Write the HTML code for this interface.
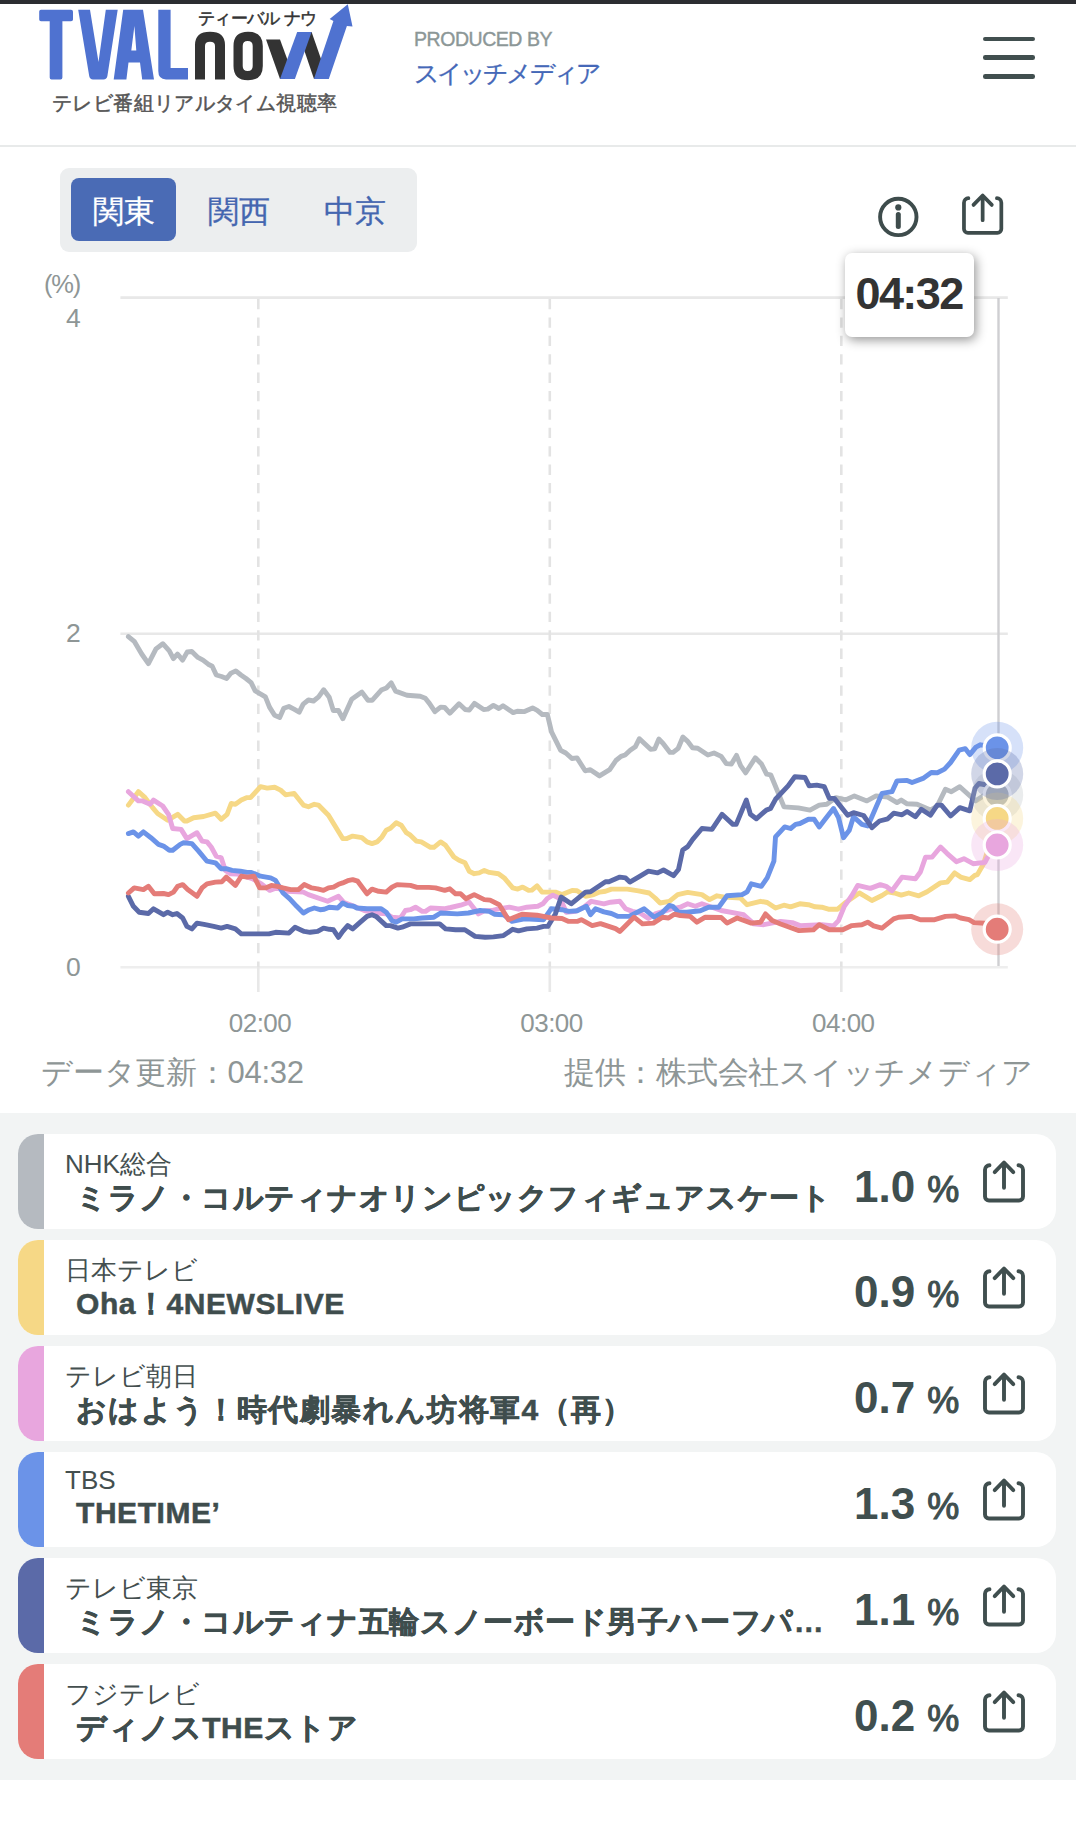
<!DOCTYPE html>
<html><head><meta charset="utf-8"><style>
html,body{margin:0;padding:0;background:#fff;width:1076px;height:1844px;overflow:hidden;position:relative;font-family:"Liberation Sans",sans-serif;}
.abs{position:absolute;}
#topbar{position:absolute;left:0;top:0;width:1076px;height:3.5px;background:#2b2d31;}
#hdrline{position:absolute;left:0;top:145px;width:1076px;height:2px;background:#e8eaea;}
.prod{position:absolute;left:414px;top:28px;font-size:19.5px;color:#8c9797;letter-spacing:-0.45px;white-space:nowrap;-webkit-text-stroke:0.4px #8c9797;}
.sw{position:absolute;left:414px;top:57px;font-size:25px;color:#4568b8;letter-spacing:-2.9px;white-space:nowrap;-webkit-text-stroke:0.3px #4568b8;}
.ham{position:absolute;left:983px;width:52px;height:4.5px;border-radius:2.25px;background:#414f4f;}
#tabs{position:absolute;left:60px;top:168px;width:357px;height:84px;border-radius:9px;background:#eceeef;}
#act{position:absolute;left:71px;top:178px;width:105px;height:63px;border-radius:8px;background:#4a6bb5;}
.tab{position:absolute;top:191px;font-size:31px;color:#4466b0;white-space:nowrap;-webkit-text-stroke:0.3px currentColor;}
.ax{position:absolute;color:#8e9696;font-size:26.5px;white-space:nowrap;}
.tl{position:absolute;top:1007.5px;color:#8e9696;font-size:26px;letter-spacing:-0.5px;white-space:nowrap;transform:translateX(-50%);}
#tip{position:absolute;left:845px;top:253px;width:129px;height:84px;border-radius:7px;background:#fff;box-shadow:2px 3px 11px rgba(0,0,0,0.42);}
#tiptext{position:absolute;left:855.5px;top:267.9px;font-size:45px;letter-spacing:-1.6px;font-weight:bold;color:#333;white-space:nowrap;}
.foot{position:absolute;top:1051.5px;font-size:31px;color:#8e9696;white-space:nowrap;letter-spacing:-0.25px;}
#gsec{position:absolute;left:0;top:1113px;width:1076px;height:667px;background:#f2f4f4;}
.card{position:absolute;left:18px;width:1038px;height:95px;background:#fff;border-radius:20px;overflow:hidden;}
.bar{position:absolute;left:0;top:0;width:26px;height:95px;}
.ch{position:absolute;left:47px;top:13px;font-size:26px;color:#444f4f;white-space:nowrap;}
.ti{position:absolute;left:58px;top:44px;font-size:30px;font-weight:bold;color:#3f4d4d;white-space:nowrap;letter-spacing:0.55px;-webkit-text-stroke:0.5px #3f4d4d;}
.val{position:absolute;left:836px;top:27.5px;font-size:44px;font-weight:bold;color:#404f4f;white-space:nowrap;}
.pc{font-size:36px;font-weight:normal;margin-left:12px;-webkit-text-stroke:1.1px #404f4f;}
.sh{position:absolute;left:965px;top:26px;overflow:visible;}
svg.chart{position:absolute;left:0;top:0;}
</style></head><body>
<div id="topbar"></div>
<svg class="abs" style="left:0;top:0" width="360" height="130" viewBox="0 0 360 130">
 <g fill="#333">
  <path d="M195 79.4 L195 45 Q195 31.8 210 31.8 Q225 31.8 225 45 L225 79.4 L215 79.4 L215 46 Q215 41.8 210 41.8 Q205 41.8 205 46 L205 79.4 Z"/>
  <path d="M248 31.8 Q262.8 31.8 262.8 46 L262.8 66 Q262.8 80.3 248 80.3 Q233.5 80.3 233.5 66 L233.5 46 Q233.5 31.8 248 31.8 Z M247.7 41 Q242.7 41 242.7 46 L242.7 66 Q242.7 71 247.7 71 Q252.7 71 252.7 66 L252.7 46 Q252.7 41 247.7 41 Z"/>
  <path d="M266 39.5 L280 39.5 L294.5 79 L280 79 Z"/>
  <path d="M298 32 L311.6 32 L328 79 L314 79 Z"/>
 </g>
 <g fill="#4f72d0">
  <path d="M39.2 11.5 Q39.2 9.8 41 9.8 L71 9.8 Q73 9.8 73 11.8 L73 19.5 Q73 21.3 71 21.3 L62.4 21.3 L62.4 77.5 Q62.4 79.4 60.5 79.4 L51.5 79.4 Q49.7 79.4 49.7 77.5 L49.7 21.3 L41 21.3 Q39.2 21.3 39.2 19.5 Z"/>
  <path d="M78.2 9.8 L90 9.8 L98.5 62 L105.8 9.8 L117.7 9.8 L107.4 76 Q106.8 79.4 103.5 79.4 L93 79.4 Q89.8 79.4 89.2 76 Z"/>
  <path d="M123.2 9.8 L143 9.8 L154 79.4 L142.2 79.4 L140 62.4 L128.5 62.4 L126.4 79.4 L113.7 79.4 Z M131.3 50.5 L136.3 50.5 L134.4 26 Z"/>
  <path d="M158.3 9.8 L170.6 9.8 L170.6 68 L188 68 L188 79.4 L166 79.4 Q158.3 79.4 158.3 71 Z"/>
  <path d="M280 79 L294.9 79 L311.6 32 L297.2 32 Z"/>
  <path d="M313.9 79 L328.8 79 L346.9 26 L352.5 26.5 L347.8 4.2 L329.7 19 L333.4 20.9 Z"/>
 </g>
 <text x="198" y="24" font-size="16.5" fill="#333" stroke="#333" stroke-width="0.5" letter-spacing="-0.65" font-family="Liberation Sans">ティーバル ナウ</text>
 <text x="52" y="110" font-size="19.5" fill="#555" stroke="#555" stroke-width="0.5" letter-spacing="0.38" font-family="Liberation Sans">テレビ番組リアルタイム視聴率</text>
</svg>
<div class="prod">PRODUCED BY</div>
<div class="sw">スイッチメディア</div>
<div class="ham" style="top:36.5px"></div><div class="ham" style="top:55.1px"></div><div class="ham" style="top:74px"></div>
<div id="hdrline"></div>
<div id="tabs"></div><div id="act"></div>
<div class="tab" style="left:93px;color:#fff">関東</div>
<div class="tab" style="left:208px">関西</div>
<div class="tab" style="left:324px">中京</div>
<svg class="abs" style="left:876px;top:194.8px" width="44" height="44" viewBox="0 0 44 44"><circle cx="22.3" cy="21.9" r="18.2" fill="none" stroke="#3e4c4c" stroke-width="3.9"/><circle cx="22.3" cy="12.4" r="3.1" fill="#3e4c4c"/><path d="M22.3 19.5 L22.3 31.5" stroke="#3e4c4c" stroke-width="5" stroke-linecap="round"/></svg>
<svg class="abs" style="left:962.4px;top:193px;overflow:visible" width="41.3" height="41.3" viewBox="0 0 42 42"><path d="M6.5 5.3 A4.5 4.5 0 0 0 2 9.8 V36.5 A4 4 0 0 0 6 40.5 H36 A4 4 0 0 0 40 36.5 V9.8 A4.5 4.5 0 0 0 35.5 5.3" fill="none" stroke="#3e4c4c" stroke-width="3.8" stroke-linecap="round" stroke-linejoin="round"/><path d="M21 27.7 V2.6 M11.7 12.1 L21 2.5 L30.3 12.1" fill="none" stroke="#3e4c4c" stroke-width="3.8" stroke-linecap="round" stroke-linejoin="round"/></svg>
<div class="ax" style="right:996px;top:270px;font-size:25.5px;letter-spacing:-1.2px;padding-right:0">(%)</div>
<div class="ax" style="right:995.3px;top:302.5px">4</div>
<div class="ax" style="right:995.3px;top:618px">2</div>
<div class="ax" style="right:995.3px;top:952px">0</div>
<div class="tl" style="left:260px">02:00</div>
<div class="tl" style="left:551.5px">03:00</div>
<div class="tl" style="left:843.3px">04:00</div>
<svg class="chart" width="1076" height="1100" viewBox="0 0 1076 1100">
 <g stroke="#e8e8e8" stroke-width="2.6">
  <path d="M120.4 297.6 H1007.8 M120.4 633.7 H1007.8"/><path d="M120.4 967.3 H1007.8" stroke="#eeeeee"/>
 </g>
 <g stroke="#e3e3e3" stroke-width="2.6" stroke-dasharray="10.3 8.1">
  <path d="M258.3 299 V967 M549.8 299 V967 M841.3 299 V967"/>
 </g>
 <path d="M258.3 967 V992 M549.8 967 V992 M841.3 967 V992" stroke="#e8e8e8" stroke-width="2.6"/>
 <path d="M998.5 298 V966" stroke="#cfcfd2" stroke-width="2.4"/>
 <g fill="none" stroke-width="4.9" stroke-linejoin="round" stroke-linecap="round"><path d="M128.4 636.6 L134.5 641.7 L141.7 654.0 L148.4 663.6 L156.0 648.9 L162.8 643.7 L169.3 650.9 L173.4 658.7 L177.5 654.0 L182.6 660.1 L187.3 651.9 L191.8 651.5 L197.9 657.4 L203.0 660.1 L208.2 664.2 L212.2 666.2 L216.3 675.0 L221.5 676.5 L226.6 678.5 L230.6 673.4 L235.8 670.9 L240.9 675.0 L246.0 678.5 L251.1 682.6 L255.2 690.8 L260.3 693.8 L265.4 696.9 L269.5 707.1 L274.6 715.3 L279.7 717.4 L283.8 708.2 L288.9 706.5 L294.0 709.2 L299.2 712.2 L303.2 704.1 L308.4 700.0 L313.5 701.0 L318.6 696.9 L323.7 689.8 L329.2 697.2 L333.3 710.5 L338.4 710.5 L342.9 718.7 L351.7 699.3 L361.9 692.1 L368.0 700.3 L372.1 700.3 L381.3 690.1 L386.4 688.0 L391.2 682.9 L395.6 691.1 L406.9 695.2 L420.2 696.2 L425.3 698.3 L429.4 703.4 L434.9 711.6 L440.6 707.1 L444.7 707.5 L449.8 713.2 L459.0 703.8 L465.2 709.5 L469.3 710.1 L474.4 703.4 L483.6 709.5 L487.7 709.1 L493.4 705.4 L498.9 708.5 L503.0 705.8 L513.2 712.6 L517.3 711.2 L524.5 711.6 L532.6 707.9 L537.2 710.4 L542.3 714.5 L547.4 714.5 L551.5 731.9 L560.7 750.3 L565.8 753.0 L571.9 758.5 L577.0 757.9 L585.2 770.8 L590.3 769.7 L599.5 775.9 L609.7 769.7 L615.9 760.5 L621.0 756.4 L625.1 755.0 L630.2 750.3 L635.3 746.8 L639.4 738.7 L650.6 749.3 L654.7 748.9 L658.8 739.1 L662.9 743.2 L670.0 752.4 L673.1 752.4 L678.2 748.3 L682.9 737.0 L687.4 741.1 L692.5 747.7 L697.7 748.3 L707.9 755.0 L714.0 753.0 L721.2 756.4 L726.3 763.6 L731.4 764.0 L736.5 755.4 L740.6 765.6 L745.7 772.8 L755.3 757.8 L761.5 764.0 L766.6 774.2 L770.7 774.8 L784.0 806.9 L798.3 807.9 L810.0 810.1 L819.2 805.1 L826.8 804.3 L836.0 797.6 L846.0 799.8 L854.4 795.9 L866.9 800.9 L876.1 795.9 L887.8 797.1 L897.0 802.6 L901.2 800.1 L907.1 803.8 L917.1 804.3 L930.5 810.1 L937.2 806.0 L945.5 789.2 L951.4 791.7 L959.8 786.7 L968.1 794.3 L975.6 800.9 L985.0 794.9 L997.0 794.9" stroke="#b5bac0"/><path d="M128.4 805.1 L138.4 791.7 L145.1 797.6 L152.6 807.6 L157.6 813.5 L167.7 820.2 L177.7 814.3 L184.4 821.0 L186.9 821.0 L193.6 817.7 L203.6 816.5 L215.4 813.2 L221.2 819.3 L227.1 814.3 L231.2 803.5 L235.4 804.3 L241.3 800.1 L247.1 797.6 L250.5 797.6 L260.5 786.7 L267.2 788.1 L274.7 787.2 L280.6 790.1 L285.6 794.8 L294.2 793.4 L303.4 805.1 L308.4 806.8 L314.3 804.3 L318.4 805.1 L328.5 815.2 L342.7 838.6 L346.9 838.6 L352.7 836.1 L361.9 837.7 L367.0 841.9 L372.0 843.6 L377.0 841.9 L382.0 836.9 L386.2 830.2 L390.4 828.2 L396.2 822.7 L401.2 825.2 L406.3 832.7 L410.4 835.2 L416.3 841.1 L421.3 841.9 L430.5 847.3 L433.9 847.3 L440.6 841.9 L445.6 845.3 L453.9 857.0 L459.0 860.3 L465.0 862.8 L469.2 871.2 L474.2 873.7 L479.2 872.9 L484.3 870.4 L489.3 872.4 L498.5 873.7 L504.3 877.9 L512.7 887.9 L517.7 889.1 L522.7 887.1 L528.6 890.4 L531.9 890.1 L537.0 885.8 L542.0 892.1 L555.4 892.1 L562.0 894.6 L572.1 890.4 L577.1 890.8 L585.5 896.3 L593.8 894.6 L599.7 892.1 L605.5 891.3 L611.4 889.1 L627.3 889.1 L638.4 890.8 L649.2 893.0 L655.1 898.0 L660.1 903.0 L669.3 901.3 L677.7 894.6 L687.7 892.4 L701.9 894.6 L709.5 899.6 L717.0 895.8 L724.5 897.1 L740.4 898.0 L747.1 904.7 L760.5 901.3 L767.2 902.5 L775.5 908.0 L783.9 905.2 L790.6 906.8 L799.8 903.8 L808.4 904.7 L815.1 906.8 L821.7 907.2 L828.4 909.2 L837.6 909.2 L846.0 902.2 L859.4 893.0 L865.2 896.3 L871.9 900.5 L882.0 895.5 L887.8 891.8 L894.5 893.0 L901.2 895.1 L908.7 893.0 L918.8 895.8 L927.1 891.8 L940.5 882.9 L947.2 882.1 L954.7 872.9 L960.6 877.1 L969.8 879.6 L974.8 875.4 L977.4 874.6 L983.5 864.0 L987.3 851.8 L997.0 818.4" stroke="#f6d886"/><path d="M128.4 791.7 L138.4 800.9 L142.6 800.9 L150.1 804.3 L153.5 800.1 L162.7 806.0 L168.5 814.3 L172.7 828.5 L181.1 829.4 L186.9 838.6 L197.0 832.7 L202.0 841.1 L207.0 841.9 L211.2 847.0 L216.2 856.1 L221.2 857.8 L225.4 870.4 L230.4 873.7 L237.1 874.0 L252.2 878.7 L261.4 883.8 L269.7 890.4 L276.4 887.9 L287.3 891.3 L303.4 892.1 L308.4 894.6 L327.6 901.3 L338.5 896.3 L343.5 902.2 L350.2 904.7 L364.4 910.5 L377.0 913.0 L386.2 913.9 L392.0 917.2 L400.4 918.0 L405.4 910.5 L410.4 909.7 L415.5 907.2 L422.2 911.4 L425.5 911.4 L430.5 908.0 L443.9 908.8 L450.6 907.5 L460.6 905.2 L469.2 902.2 L478.4 913.9 L484.3 910.8 L491.8 910.5 L498.5 908.8 L509.3 907.2 L518.5 909.2 L526.9 907.2 L537.8 906.3 L542.8 903.8 L547.0 898.8 L552.8 895.1 L560.4 898.8 L566.2 912.2 L575.4 911.4 L583.8 907.2 L591.3 901.3 L603.9 903.8 L610.6 902.2 L619.8 901.3 L625.6 908.8 L632.3 911.4 L640.0 913.0 L648.4 918.5 L655.1 913.9 L671.8 908.8 L680.2 907.2 L687.7 903.8 L695.2 906.3 L701.9 903.8 L721.2 910.5 L743.7 914.7 L753.8 923.9 L763.8 924.7 L780.6 921.4 L792.3 922.6 L800.0 925.6 L821.7 924.7 L833.5 925.9 L838.5 920.6 L844.3 906.3 L851.9 895.5 L857.7 885.4 L870.3 888.4 L880.3 884.6 L886.1 886.3 L892.0 890.8 L902.0 877.1 L915.4 878.7 L920.4 872.0 L925.5 857.3 L932.2 857.0 L940.5 847.0 L947.2 853.6 L956.4 861.7 L963.9 858.7 L973.1 863.7 L985.0 862.4 L987.3 857.9 L997.0 845.0" stroke="#e8a6de"/><path d="M128.4 833.6 L133.4 831.9 L138.4 836.1 L143.4 831.9 L150.9 837.7 L158.5 844.4 L163.5 846.1 L169.3 850.3 L172.7 850.3 L180.2 844.4 L183.6 842.8 L191.9 843.6 L198.6 851.1 L207.0 861.2 L215.4 862.8 L221.2 868.7 L226.2 868.7 L232.1 870.4 L240.4 871.2 L247.1 872.4 L251.3 872.4 L260.5 876.2 L270.6 877.9 L275.6 880.4 L283.1 893.0 L289.8 898.8 L296.7 906.3 L303.4 913.0 L309.2 909.7 L314.3 908.0 L320.1 909.7 L324.3 909.2 L329.3 907.2 L337.7 908.0 L342.7 903.0 L347.7 905.5 L353.6 906.3 L356.9 908.0 L367.0 908.8 L381.2 908.8 L386.2 912.2 L392.0 920.6 L396.2 922.2 L402.1 918.9 L413.8 918.9 L422.2 918.0 L433.9 917.2 L440.6 913.0 L457.3 913.9 L468.4 913.0 L480.1 910.5 L489.3 911.4 L494.3 914.2 L503.5 914.7 L511.9 921.4 L524.4 918.9 L543.6 919.7 L551.2 908.8 L562.0 909.7 L568.7 911.4 L577.1 910.8 L586.3 906.3 L590.5 914.7 L595.5 908.8 L603.9 911.9 L611.4 913.5 L618.1 916.4 L629.0 916.4 L644.2 908.8 L654.3 917.2 L661.8 913.0 L669.3 905.5 L672.7 906.3 L678.5 912.2 L686.9 912.2 L700.3 910.8 L708.6 907.2 L718.7 907.2 L727.0 895.8 L742.1 894.6 L747.1 891.8 L751.3 883.8 L761.3 886.3 L767.2 877.9 L773.9 861.2 L775.5 836.9 L784.7 826.9 L790.6 828.5 L795.6 824.4 L800.0 823.5 L808.4 819.3 L814.2 819.3 L819.2 826.9 L825.1 819.3 L833.5 808.5 L838.5 817.7 L843.5 837.7 L849.3 830.2 L853.5 816.8 L861.9 824.4 L867.7 826.0 L871.9 816.8 L882.0 793.4 L892.0 791.7 L897.0 780.9 L907.1 780.4 L912.1 782.5 L923.0 778.4 L931.3 772.5 L937.3 772.7 L944.5 769.1 L950.6 762.5 L959.2 750.1 L965.3 748.6 L969.8 754.6 L975.9 747.1 L980.5 744.8 L985.0 745.5 L997.0 747.8" stroke="#6b93e8"/><path d="M128.4 896.3 L133.4 906.3 L139.2 912.2 L148.4 913.5 L153.5 908.8 L163.5 914.7 L167.7 912.2 L172.7 914.7 L176.9 913.5 L182.7 918.0 L186.9 926.4 L191.9 928.9 L197.0 923.1 L205.3 924.7 L213.7 926.4 L221.2 928.1 L227.1 926.4 L235.4 928.9 L241.3 933.9 L268.9 933.9 L275.6 932.3 L289.0 933.1 L295.0 927.2 L304.2 931.4 L310.1 932.3 L317.6 931.4 L323.5 928.1 L329.3 929.3 L333.5 929.8 L338.5 937.3 L342.7 931.4 L347.7 925.6 L352.7 928.9 L360.3 922.2 L367.0 916.4 L372.0 914.7 L376.1 916.4 L386.2 925.6 L390.4 925.6 L397.9 928.1 L402.1 927.2 L410.4 923.9 L439.7 923.9 L445.6 928.9 L455.6 929.8 L464.8 929.8 L475.1 936.4 L485.1 937.3 L493.5 936.9 L503.5 935.6 L512.7 929.3 L518.5 930.9 L526.9 928.9 L537.0 928.1 L543.6 926.4 L547.8 926.4 L555.4 913.9 L561.2 897.1 L571.2 903.8 L585.5 892.1 L590.5 891.8 L605.5 881.7 L608.9 881.7 L619.8 877.1 L625.6 877.9 L629.8 882.1 L638.4 877.1 L648.4 871.2 L657.6 872.9 L663.5 870.0 L673.5 875.7 L678.5 869.5 L682.7 850.0 L687.7 846.6 L692.7 839.4 L701.9 828.5 L712.0 829.4 L722.0 814.3 L732.9 824.4 L736.2 824.4 L746.3 800.1 L750.4 814.3 L756.3 818.8 L766.3 810.1 L770.5 808.5 L775.5 799.3 L788.1 785.9 L794.8 776.7 L805.0 777.5 L809.2 785.9 L816.7 785.1 L824.3 786.7 L829.3 798.4 L834.3 798.4 L847.7 815.2 L853.5 812.7 L863.6 815.5 L871.9 827.7 L879.5 821.0 L887.8 818.8 L893.7 813.2 L902.0 814.8 L907.1 811.5 L915.4 816.8 L921.3 809.3 L930.5 815.2 L937.2 805.1 L941.4 805.1 L950.6 816.0 L959.8 807.6 L969.8 810.8 L975.1 788.0 L978.9 783.5 L986.5 785.0 L997.0 773.9" stroke="#5b6aa8"/><path d="M128.4 893.0 L134.2 887.9 L143.4 889.6 L148.4 886.3 L154.3 893.8 L163.5 893.5 L168.5 894.6 L173.5 892.1 L177.7 886.3 L182.7 884.6 L187.7 889.6 L197.0 896.3 L202.0 887.9 L207.0 883.8 L215.4 882.1 L222.0 881.7 L226.2 877.1 L235.4 885.4 L241.3 876.2 L247.1 877.1 L253.8 876.2 L259.7 887.9 L265.5 887.9 L271.4 885.4 L277.2 886.3 L283.1 887.9 L290.6 889.6 L298.4 889.6 L304.2 884.6 L311.7 887.9 L317.6 888.8 L323.5 890.4 L328.5 887.9 L333.5 887.1 L338.5 884.3 L342.7 882.9 L347.7 880.7 L352.7 879.6 L357.7 881.2 L367.0 893.8 L372.0 889.1 L378.7 891.3 L386.2 892.1 L392.0 887.1 L397.1 884.6 L410.4 885.4 L417.1 887.4 L428.8 887.4 L435.5 887.9 L444.7 890.4 L449.8 888.8 L455.6 893.8 L460.6 893.8 L465.9 898.8 L474.2 894.6 L484.3 899.6 L490.1 900.1 L499.3 904.7 L508.5 919.7 L521.9 914.2 L537.0 915.2 L551.2 918.0 L562.0 918.5 L568.7 921.4 L577.1 921.4 L581.3 919.7 L592.2 925.6 L600.5 923.6 L615.6 928.6 L619.8 931.4 L634.0 917.2 L642.5 923.9 L653.4 923.1 L662.6 917.2 L668.5 918.0 L674.3 914.2 L680.2 915.5 L690.2 916.4 L696.9 922.2 L705.3 917.2 L721.2 917.5 L727.0 923.1 L737.1 918.0 L751.3 923.1 L760.5 922.2 L765.5 913.9 L772.2 920.6 L780.6 924.0 L799.0 930.6 L813.4 929.8 L819.2 924.7 L829.3 929.8 L842.7 929.8 L851.9 925.6 L861.9 924.7 L867.7 922.2 L873.6 925.9 L882.0 928.1 L893.7 918.9 L898.7 917.2 L911.2 916.4 L920.4 919.7 L934.7 919.7 L945.5 916.4 L955.6 915.9 L960.6 918.0 L969.0 919.7 L974.0 922.6 L985.0 923.2 L997.0 929.2" stroke="#e47c78"/></g>
 <circle cx="997.2" cy="794.9" r="26" fill="#b5bac0" fill-opacity="0.28"/><circle cx="997.2" cy="794.9" r="13" fill="#b5bac0" stroke="#fff" stroke-width="3.2"/><circle cx="997.2" cy="818.4" r="26" fill="#f6d886" fill-opacity="0.28"/><circle cx="997.2" cy="818.4" r="13" fill="#f6d886" stroke="#fff" stroke-width="3.2"/><circle cx="997.2" cy="845" r="26" fill="#e8a6de" fill-opacity="0.28"/><circle cx="997.2" cy="845" r="13" fill="#e8a6de" stroke="#fff" stroke-width="3.2"/><circle cx="997.2" cy="747.8" r="26" fill="#6b93e8" fill-opacity="0.28"/><circle cx="997.2" cy="747.8" r="13" fill="#6b93e8" stroke="#fff" stroke-width="3.2"/><circle cx="997.2" cy="773.9" r="26" fill="#5b6aa8" fill-opacity="0.28"/><circle cx="997.2" cy="773.9" r="13" fill="#5b6aa8" stroke="#fff" stroke-width="3.2"/><circle cx="997.2" cy="929.2" r="26" fill="#e47c78" fill-opacity="0.28"/><circle cx="997.2" cy="929.2" r="13" fill="#e47c78" stroke="#fff" stroke-width="3.2"/>
</svg>
<div id="tip"></div><div id="tiptext">04:32</div>
<div class="foot" style="left:41px">データ更新：04:32</div>
<div class="foot" style="right:43px">提供：株式会社スイッチメディア</div>
<div id="gsec"></div>
<div class="card" style="top:1134.0px"><div class="bar" style="background:#b5bac0"></div><div class="ch">NHK総合</div><div class="ti">ミラノ・コルティナオリンピックフィギュアスケート</div><div class="val">1.0<span class="pc">%</span></div><svg class="sh" viewBox="0 0 42 42" width="42" height="42"><path d="M6.5 5.3 A4.5 4.5 0 0 0 2 9.8 V36.5 A4 4 0 0 0 6 40.5 H36 A4 4 0 0 0 40 36.5 V9.8 A4.5 4.5 0 0 0 35.5 5.3" fill="none" stroke="#404f4f" stroke-width="3.9" stroke-linecap="round" stroke-linejoin="round"/><path d="M21 27.7 V2.6 M11.7 12.1 L21 2.5 L30.3 12.1" fill="none" stroke="#404f4f" stroke-width="3.9" stroke-linecap="round" stroke-linejoin="round"/></svg></div>
<div class="card" style="top:1239.9px"><div class="bar" style="background:#f6d886"></div><div class="ch">日本テレビ</div><div class="ti">Oha！4NEWSLIVE</div><div class="val">0.9<span class="pc">%</span></div><svg class="sh" viewBox="0 0 42 42" width="42" height="42"><path d="M6.5 5.3 A4.5 4.5 0 0 0 2 9.8 V36.5 A4 4 0 0 0 6 40.5 H36 A4 4 0 0 0 40 36.5 V9.8 A4.5 4.5 0 0 0 35.5 5.3" fill="none" stroke="#404f4f" stroke-width="3.9" stroke-linecap="round" stroke-linejoin="round"/><path d="M21 27.7 V2.6 M11.7 12.1 L21 2.5 L30.3 12.1" fill="none" stroke="#404f4f" stroke-width="3.9" stroke-linecap="round" stroke-linejoin="round"/></svg></div>
<div class="card" style="top:1345.8px"><div class="bar" style="background:#e8a6de"></div><div class="ch">テレビ朝日</div><div class="ti" style="letter-spacing:1.4px">おはよう！時代劇暴れん坊将軍4（再）</div><div class="val">0.7<span class="pc">%</span></div><svg class="sh" viewBox="0 0 42 42" width="42" height="42"><path d="M6.5 5.3 A4.5 4.5 0 0 0 2 9.8 V36.5 A4 4 0 0 0 6 40.5 H36 A4 4 0 0 0 40 36.5 V9.8 A4.5 4.5 0 0 0 35.5 5.3" fill="none" stroke="#404f4f" stroke-width="3.9" stroke-linecap="round" stroke-linejoin="round"/><path d="M21 27.7 V2.6 M11.7 12.1 L21 2.5 L30.3 12.1" fill="none" stroke="#404f4f" stroke-width="3.9" stroke-linecap="round" stroke-linejoin="round"/></svg></div>
<div class="card" style="top:1451.7px"><div class="bar" style="background:#6b93e8"></div><div class="ch">TBS</div><div class="ti">THETIME’</div><div class="val">1.3<span class="pc">%</span></div><svg class="sh" viewBox="0 0 42 42" width="42" height="42"><path d="M6.5 5.3 A4.5 4.5 0 0 0 2 9.8 V36.5 A4 4 0 0 0 6 40.5 H36 A4 4 0 0 0 40 36.5 V9.8 A4.5 4.5 0 0 0 35.5 5.3" fill="none" stroke="#404f4f" stroke-width="3.9" stroke-linecap="round" stroke-linejoin="round"/><path d="M21 27.7 V2.6 M11.7 12.1 L21 2.5 L30.3 12.1" fill="none" stroke="#404f4f" stroke-width="3.9" stroke-linecap="round" stroke-linejoin="round"/></svg></div>
<div class="card" style="top:1557.6px"><div class="bar" style="background:#5b6aa8"></div><div class="ch">テレビ東京</div><div class="ti">ミラノ・コルティナ五輪スノーボード男子ハーフパ…</div><div class="val">1.1<span class="pc">%</span></div><svg class="sh" viewBox="0 0 42 42" width="42" height="42"><path d="M6.5 5.3 A4.5 4.5 0 0 0 2 9.8 V36.5 A4 4 0 0 0 6 40.5 H36 A4 4 0 0 0 40 36.5 V9.8 A4.5 4.5 0 0 0 35.5 5.3" fill="none" stroke="#404f4f" stroke-width="3.9" stroke-linecap="round" stroke-linejoin="round"/><path d="M21 27.7 V2.6 M11.7 12.1 L21 2.5 L30.3 12.1" fill="none" stroke="#404f4f" stroke-width="3.9" stroke-linecap="round" stroke-linejoin="round"/></svg></div>
<div class="card" style="top:1663.5px"><div class="bar" style="background:#e47c78"></div><div class="ch">フジテレビ</div><div class="ti">ディノスTHEストア</div><div class="val">0.2<span class="pc">%</span></div><svg class="sh" viewBox="0 0 42 42" width="42" height="42"><path d="M6.5 5.3 A4.5 4.5 0 0 0 2 9.8 V36.5 A4 4 0 0 0 6 40.5 H36 A4 4 0 0 0 40 36.5 V9.8 A4.5 4.5 0 0 0 35.5 5.3" fill="none" stroke="#404f4f" stroke-width="3.9" stroke-linecap="round" stroke-linejoin="round"/><path d="M21 27.7 V2.6 M11.7 12.1 L21 2.5 L30.3 12.1" fill="none" stroke="#404f4f" stroke-width="3.9" stroke-linecap="round" stroke-linejoin="round"/></svg></div>

</body></html>
